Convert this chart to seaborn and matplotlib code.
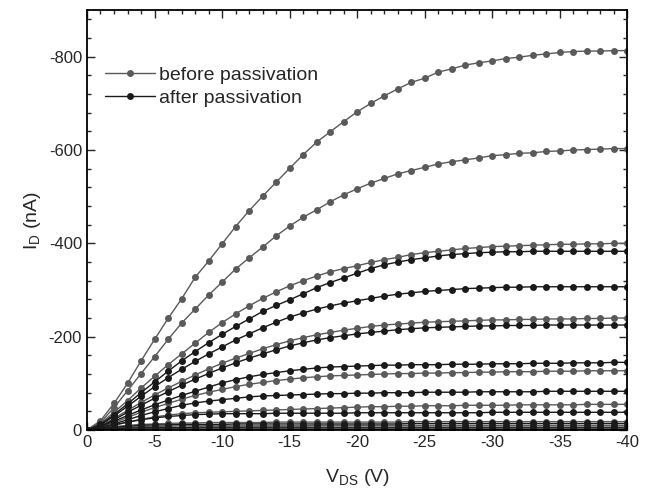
import numpy as np
import pandas as pd
import matplotlib
matplotlib.use("Agg")
import matplotlib.pyplot as plt
from matplotlib.lines import Line2D
from matplotlib.ticker import MultipleLocator
import seaborn as sns

# drain voltage sweep, 0 .. -40 V in 1 V steps
vds = np.arange(0, -41, -1)

# |I_D| in nA, before passivation (gray)
before = {
    "b1": [0, 20, 57, 100, 148, 194, 239, 281, 327, 362, 399, 436, 470, 501, 531, 561, 590, 617, 639, 661, 682,
           700, 716, 731, 745, 754, 767, 774, 782, 787, 791, 796, 799, 803, 806, 809, 811, 812, 812, 813, 813],
    "b2": [0, 16, 48, 84, 121, 157, 194, 229, 259, 289, 317, 345, 369, 392, 416, 437, 456, 472, 489, 504, 517,
           529, 539, 549, 556, 563, 570, 575, 579, 583, 588, 590, 593, 594, 597, 598, 600, 601, 602, 603, 603],
    "b3": [0, 14, 38, 63, 90, 115, 140, 163, 186, 209, 230, 249, 266, 282, 296, 309, 320, 330, 339, 346, 352,
           359, 365, 370, 376, 380, 383, 386, 389, 391, 393, 394, 395, 396, 397, 398, 398, 399, 399, 400, 400],
    "b4": [0, 9, 25, 42, 59, 75, 90, 104, 118, 131, 143, 154, 164, 174, 183, 191, 198, 204, 209, 214, 218,
           222, 225, 227, 229, 231, 232, 233, 234, 235, 236, 236, 237, 237, 238, 238, 238, 239, 239, 240, 240],
    "b5": [0, 6, 16, 27, 38, 48, 57, 66, 74, 81, 87, 93, 98, 102, 106, 109, 112, 114, 116, 117, 118,
           119, 120, 121, 121, 122, 122, 123, 123, 124, 124, 125, 125, 125, 126, 126, 126, 127, 127, 127, 127],
    "b6": [0, 4, 10, 17, 23, 28, 32, 35, 37, 38, 39, 40, 41, 42, 43, 44, 45, 46, 47, 48, 49,
           50, 50, 51, 51, 52, 52, 52, 53, 53, 53, 53, 54, 54, 54, 54, 54, 55, 55, 55, 55],
    "b7": [0, 3, 7, 10, 12, 13, 14, 15, 15, 16, 16, 16, 16, 16, 17, 17, 17, 17, 17, 17, 17,
           17, 17, 17, 18, 18, 18, 18, 18, 18, 18, 18, 18, 18, 18, 18, 18, 18, 18, 18, 18],
    "b8": [0, 2, 4, 6, 7, 8, 8, 9, 9, 9, 9, 9, 9, 9, 9, 9, 9, 10, 10, 10, 10,
           10, 10, 10, 10, 10, 10, 10, 10, 10, 10, 10, 10, 10, 10, 10, 10, 10, 10, 10, 10],
    "b9": [0, 1, 2, 2, 3, 3, 3, 3, 3, 3, 3, 3, 3, 3, 3, 3, 3, 3, 3, 3, 3,
           3, 3, 3, 3, 3, 3, 3, 3, 3, 3, 3, 3, 3, 3, 3, 3, 3, 3, 3, 3],
}

# after passivation (black)
after = {
    "a1": [0, 12, 33, 56, 80, 103, 126, 148, 168, 187, 205, 222, 238, 254, 267, 279, 292, 305, 316, 326, 336,
           346, 354, 360, 365, 369, 373, 376, 378, 380, 381, 382, 382, 383, 383, 383, 383, 383, 383, 383, 383],
    "a2": [0, 11, 30, 51, 72, 93, 112, 130, 147, 163, 178, 193, 206, 219, 231, 242, 251, 259, 266, 272, 277,
           282, 287, 291, 294, 297, 299, 301, 303, 304, 305, 306, 306, 307, 307, 307, 307, 307, 307, 307, 307],
    "a3": [0, 8, 22, 38, 53, 68, 82, 96, 109, 121, 133, 144, 154, 163, 172, 180, 187, 193, 198, 202, 206,
           209, 212, 215, 217, 219, 220, 221, 222, 223, 223, 224, 224, 224, 225, 225, 225, 225, 225, 225, 225],
    "a4": [0, 7, 19, 31, 43, 54, 64, 74, 83, 92, 101, 108, 114, 119, 123, 127, 130, 133, 135, 136, 137,
           138, 139, 139, 140, 140, 140, 141, 141, 141, 142, 142, 142, 143, 143, 143, 144, 144, 144, 145, 145],
    "a5": [0, 5, 13, 22, 31, 39, 46, 53, 58, 62, 65, 68, 71, 73, 74, 75, 76, 77, 78, 78, 79,
           79, 80, 80, 80, 81, 81, 81, 81, 82, 82, 82, 82, 82, 83, 83, 83, 83, 83, 83, 83],
    "a6": [0, 4, 11, 17, 22, 26, 29, 31, 33, 34, 35, 35, 35, 35, 36, 36, 36, 36, 36, 36, 37,
           37, 37, 37, 37, 37, 37, 37, 37, 37, 38, 38, 38, 38, 38, 38, 38, 38, 38, 38, 38],
    "a7": [0, 3, 6, 8, 10, 11, 11, 12, 12, 12, 12, 13, 13, 13, 13, 13, 13, 13, 13, 13, 13,
           13, 13, 13, 14, 14, 14, 14, 14, 14, 14, 14, 14, 14, 14, 14, 14, 14, 14, 14, 14],
    "a8": [0, 2, 3, 4, 5, 5, 5, 5, 6, 6, 6, 6, 6, 6, 6, 6, 6, 6, 6, 6, 6,
           6, 6, 6, 6, 6, 6, 6, 6, 6, 6, 6, 6, 6, 6, 6, 6, 6, 6, 6, 6],
    "a9": [0, 0, 1, 1, 1, 1, 1, 1, 1, 1, 1, 1, 1, 1, 1, 1, 1, 1, 1, 1, 1,
           1, 1, 1, 1, 1, 1, 1, 1, 1, 1, 1, 1, 1, 1, 1, 1, 1, 1, 1, 1],
}

labels = ["before passivation", "after passivation"]
colors = ["#5a5a5a", "#1a1a1a"]


def to_frame(curves):
    rows = []
    for name, vals in curves.items():
        for v, i in zip(vds, vals):
            rows.append({"V": v, "I": -i, "curve": name})
    return pd.DataFrame(rows)


sns.set_style("ticks")
plt.rcParams["font.family"] = ["Liberation Sans", "DejaVu Sans"]
plt.rcParams["axes.unicode_minus"] = False
plt.rcParams["mathtext.default"] = "regular"

fig = plt.figure(figsize=(6.51, 4.98), dpi=100)
ax = fig.add_axes([0.1336, 0.1365, 0.8303, 0.8434])

for curves, col in zip([before, after], colors):
    sns.lineplot(data=to_frame(curves), x="V", y="I", units="curve", estimator=None,
                 color=col, marker="o", markersize=5, markeredgewidth=0,
                 linewidth=1.0, sort=False, legend=False, ax=ax)

ax.set_xlim(0, -40)
ax.set_ylim(0, -900)
ax.xaxis.set_major_locator(MultipleLocator(5))
ax.xaxis.set_minor_locator(MultipleLocator(1))
ax.yaxis.set_major_locator(MultipleLocator(200))
ax.yaxis.set_minor_locator(MultipleLocator(40))
ax.set_yticks([0, -200, -400, -600, -800])
ax.tick_params(which="both", direction="in", top=True, right=True, width=1.0, labelsize=12)
ax.tick_params(which="major", length=5.5)
ax.tick_params(which="minor", length=3)
for s in ax.spines.values():
    s.set_linewidth(1.3)
    s.set_color("black")

ax.set_xlabel("V$_{DS}$ (V)", fontsize=14, labelpad=12)
ax.set_ylabel("I$_{D}$ (nA)", fontsize=14, labelpad=4)

handles = [Line2D([], [], color=c, marker="o", markersize=5, markeredgewidth=0, linewidth=1.0)
           for c in colors]
ax.legend(handles, labels, loc="upper left", bbox_to_anchor=(0.015, 0.89), frameon=False,
          fontsize=14, handlelength=2.6, handletextpad=0.2, labelspacing=0.3, borderpad=0)

fig.savefig("out.png", dpi=100)
